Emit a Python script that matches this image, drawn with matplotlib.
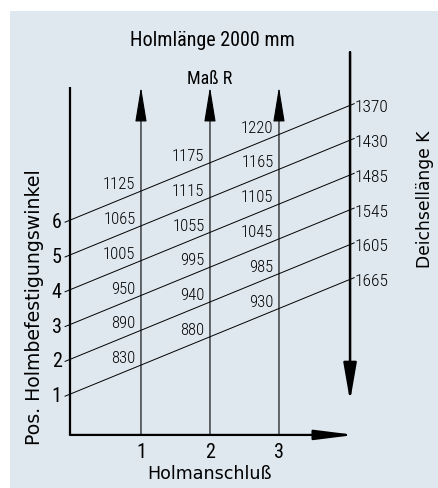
import matplotlib
matplotlib.use('Agg')
import matplotlib.pyplot as plt
from matplotlib.patches import Rectangle

plt.rcParams['font.family'] = ['Roboto Condensed', 'DejaVu Sans']

# Pos. Holmbefestigungswinkel (left axis), Holmanschluss (x axis)
pos = [1, 2, 3, 4, 5, 6]
anschluss = [1, 2, 3]
# Deichsellaenge K at the right end of each line (pos 1..6)
deichsel_k = [1665, 1605, 1545, 1485, 1430, 1370]
# Mass R per Holmanschluss column, for pos 1..6
mass_r = {
    1: [830, 890, 950, 1005, 1065, 1125],
    2: [880, 940, 995, 1055, 1115, 1175],
    3: [930, 985, 1045, 1105, 1165, 1220],
}

rise = 3.3      # line rise from left axis to right axis
x_left = -0.03
x_right = 4.03
y_base = -0.17
slope = rise / (x_right - x_left)

fig = plt.figure(figsize=(4.39, 4.89), dpi=100)
ax = fig.add_axes([0, 0, 1, 1])
ax.set_xlim(-1.043, 5.319)
ax.set_ylim(-1.695, 12.356)
ax.axis('off')
ax.add_patch(Rectangle((10 / 439, 0), 1, 1 - 12 / 489, transform=ax.transAxes,
                       facecolor='#dfe8ef', edgecolor='none', zorder=0))

def arrow(x0, y0, x1, y1, lw, hl, hw):
    ax.annotate('', xy=(x1, y1), xytext=(x0, y0),
                arrowprops=dict(arrowstyle='-|>,head_length=%s,head_width=%s' % (hl, hw),
                                lw=lw, color='black', shrinkA=0, shrinkB=0,
                                mutation_scale=20))

# left axis
ax.plot([x_left, x_left], [y_base, 9.83], color='black', lw=1.6, solid_capstyle='butt')
# x axis
arrow(x_left, y_base, 4.1, y_base, 1.6, 1.2, 0.15)
# vertical arrows (Mass R)
for a in anschluss:
    arrow(a, y_base, a, 9.83, 0.8, 1.1, 0.18)
# right axis (Deichsellaenge K)
arrow(x_right, 10.83, x_right, 0.8, 1.8, 1.15, 0.2)

# diagonal lines
for p, k in zip(pos, deichsel_k):
    ax.plot([x_left - 0.07, x_right + 0.06],
            [p - slope * 0.07, p + rise + slope * 0.06], color='black', lw=0.7)
    ax.text(x_right + 0.06, p + rise - 0.17, str(k), ha='left', va='baseline',
            fontsize=12.5, fontweight='light')
    ax.text(x_left - 0.12, p - 0.2, str(p), ha='right', va='baseline', fontsize=14.5)

# Mass R labels
for a in anschluss:
    for p, r in zip(pos, mass_r[a]):
        xc = a - 0.33
        ax.text(a - 0.08, p + slope * (xc - x_left) + 0.35, str(r),
                ha='right', va='baseline', fontsize=12, fontweight='light')

for a in anschluss:
    ax.text(a, -0.8, str(a), ha='center', va='baseline', fontsize=14.5)

ax.text(2.03, 11.03, 'Holmlänge 2000 mm', ha='center', va='baseline', fontsize=14.5)
ax.text(1.99, 9.94, 'Maß R', ha='center', va='baseline', fontsize=13)
ax.text(2.0, -1.41, 'Holmanschluß', ha='center', va='baseline', fontsize=12.6,
        family='DejaVu Sans')
ax.text(5.12, 6.62, 'Deichsellänge K', ha='center', va='center', rotation=90,
        fontsize=12.3, family='DejaVu Sans')
ax.text(-0.55, 3.53, 'Pos. Holmbefestigungswinkel', ha='center', va='center',
        rotation=90, fontsize=13.6, family='DejaVu Sans')

fig.savefig('out.png', dpi=100)
